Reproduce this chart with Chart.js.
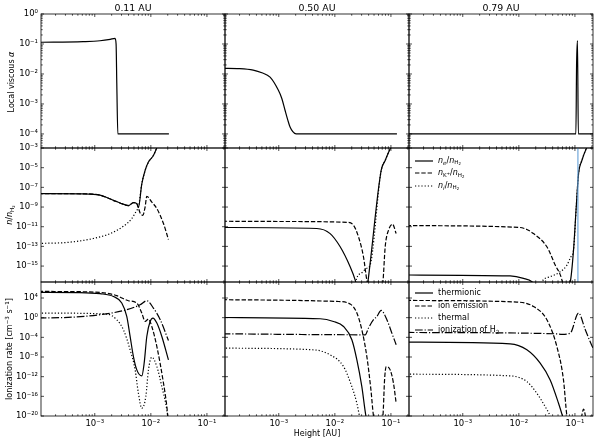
<!DOCTYPE html>
<html><head><meta charset="utf-8">
<script src="https://cdn.jsdelivr.net/npm/chart.js@4.4.1/dist/chart.umd.min.js"></script>
<style>
html,body{margin:0;padding:0;width:598px;height:442px;overflow:hidden;background:#fff;}
body{position:relative;font-family:"DejaVu Sans",sans-serif;color:#000;}
canvas{position:absolute;}
.t{position:absolute;white-space:nowrap;line-height:1;}
sub{font-size:70%;vertical-align:-0.3em;line-height:0;}
sup{font-size:70%;vertical-align:0.45em;line-height:0;}
</style></head><body>
<script>
// ---------- tick / category data ----------
const radii = ['0.11 AU', '0.50 AU', '0.79 AU'];
const heightTicks = [1e-3, 1e-2, 1e-1];
const alphaTicks = [1e-4, 1e-3, 1e-2, 1e-1, 1];
const ratioTicks = [1e-15, 1e-13, 1e-11, 1e-9, 1e-7, 1e-5, 1e-3];
const rateTicks = [1e-20, 1e-16, 1e-12, 1e-8, 1e-4, 1, 1e4];
const heightRange = [1.1e-4, 0.21];
const alphaRange = [3.4e-5, 1];
const ratioRange = [2.4e-17, 1e-3];
const rateRange = [1e-20, 1.8e7];

// ---------- row 1: local viscous alpha ----------
const alphaH1 = [1.0e-4, 6.2e-4, 1.24e-3, 1.88e-3, 2.3e-3, 2.4e-3, 2.47e-3, 2.58e-3, 0.021];
const alpha1  = [0.114, 0.12, 0.128, 0.143, 0.155, 0.1, 0.005, 1e-4, 1e-4];
const alphaH2 = [1.0e-4, 2.0e-4, 3.5e-4, 5.0e-4, 7.0e-4, 9.8e-4, 1.13e-3, 1.29e-3, 1.45e-3, 1.59e-3, 1.78e-3, 2.04e-3, 0.128];
const alpha2  = [0.0155, 0.0151, 0.0135, 0.011, 0.0078, 0.0029, 0.00155, 0.00063, 0.00029, 0.00017, 0.00012, 0.0001, 0.0001];
const alphaH3 = [1.0e-4, 0.104, 0.107, 0.111, 0.115, 0.22];
const alpha3  = [1e-4, 1e-4, 0.02, 0.13, 1e-4, 1e-4];

// ---------- row 2: number density ratios ----------
const neH1 = [1.0e-4, 6.0e-4, 1.24e-3, 2.15e-3, 2.83e-3, 3.98e-3, 4.89e-3, 5.62e-3, 6.0e-3, 6.9e-3, 7.9e-3, 9.06e-3, 1.11e-2, 1.28e-2, 1.41e-2];
const ne1  = [2.3e-8, 2.2e-8, 1.6e-8, 4.8e-9, 2.6e-9, 1.4e-9, 2.8e-9, 2.2e-9, 8.7e-10, 2.3e-7, 5.2e-6, 3.7e-5, 1.7e-4, 1.05e-3, 3.2e-3];
const nkH1 = [1.0e-4, 6.0e-4, 1.24e-3, 2.15e-3, 2.83e-3, 3.98e-3, 4.89e-3, 5.62e-3, 6.44e-3, 7.2e-3, 7.9e-3, 8.47e-3, 1.04e-2, 1.28e-2, 1.68e-2, 2.06e-2];
const nk1  = [2.3e-8, 2.2e-8, 1.6e-8, 4.8e-9, 2.6e-9, 1.4e-9, 2.8e-9, 2.2e-9, 2.5e-10, 1.45e-10, 1e-9, 1.23e-8, 3.2e-9, 6.9e-10, 2.1e-11, 5e-13];
const niH1 = [1.0e-4, 3.16e-4, 9.4e-4, 1.88e-3, 3.24e-3, 4.58e-3, 5.62e-3, 6.0e-3, 6.9e-3, 7.9e-3, 9.06e-3, 1.11e-2, 1.28e-2, 1.41e-2];
const ni1  = [2e-13, 2.5e-13, 6.3e-13, 2.0e-12, 1.1e-11, 6.8e-11, 4.7e-10, 8.7e-10, 2.3e-7, 5.2e-6, 3.7e-5, 1.7e-4, 1.05e-3, 3.2e-3];

const neH2 = [1.0e-4, 4.76e-3, 8.24e-3, 1.245e-2, 1.875e-2, 2.3e-2, 3.03e-2, 3.88e-2, 4.2e-2, 6.7e-2, 7.9e-2, 9.7e-2, 0.112];
const ne2  = [8.3e-12, 6.6e-12, 2.0e-12, 9.1e-14, 8.5e-16, 4e-17, 1e-19, 2.5e-17, 1e-15, 5.2e-6, 5.4e-5, 8.3e-4, 3.2e-3];
const nkH2 = [1.0e-4, 1e-3, 1.635e-2, 2.15e-2, 2.64e-2, 3.24e-2, 3.72e-2, 5.25e-2, 7.2e-2, 7.9e-2, 9.06e-2, 0.107, 0.124];
const nk2  = [3.6e-11, 3.4e-11, 2.8e-11, 1.4e-11, 9.3e-13, 8.7e-15, 3.8e-17, 1e-19, 2.5e-17, 9.1e-14, 4.5e-12, 1.8e-11, 2.0e-12];
const niH2 = [2.0e-2, 2.45e-2, 3.03e-2, 3.72e-2, 4.2e-2, 6.7e-2, 7.9e-2, 9.7e-2, 0.112];
const ni2  = [1e-19, 5.6e-17, 2.1e-16, 6e-16, 1e-15, 5.2e-6, 5.4e-5, 8.3e-4, 3.2e-3];

const neH3 = [1.0e-4, 7.0e-3, 1.21e-2, 1.71e-2, 3.62e-2, 8.24e-2, 9.44e-2, 0.1055, 0.116, 0.133, 0.159, 0.18];
const ne3  = [1.23e-16, 1e-16, 5.6e-17, 2.5e-17, 1e-19, 2.5e-17, 4.2e-14, 1.0e-9, 2.4e-6, 5.4e-5, 8.3e-4, 3.2e-3];
const nkH3 = [1.0e-4, 1.05e-2, 1.39e-2, 1.82e-2, 3.16e-2, 4.45e-2, 5.86e-2, 7e-2];
const nk3  = [1.3e-11, 8.3e-12, 5.2e-12, 2.0e-12, 9.1e-14, 1.26e-15, 3.8e-17, 1e-19];
const niH3 = [2.0e-2, 2.58e-2, 3.62e-2, 5.46e-2, 7.2e-2, 8.47e-2, 9.44e-2, 0.1055, 0.116, 0.133, 0.159, 0.18];
const ni3  = [1e-19, 2.5e-17, 8.3e-17, 2.6e-16, 1.26e-15, 8.7e-15, 4.2e-14, 1.0e-9, 2.4e-6, 5.4e-5, 8.3e-4, 3.2e-3];
const markH3 = [0.113, 0.113];
const markV3 = [1e-30, 1];

// ---------- row 3: ionization rates ----------
const thH1 = [1.0e-4, 5e-4, 1.24e-3, 2.15e-3, 3.03e-3, 3.72e-3, 4.27e-3, 4.89e-3, 5.62e-3, 6.9e-3, 7.6e-3, 8.47e-3, 9.7e-3, 1.09e-2, 1.28e-2, 1.57e-2, 2.06e-2];
const th1  = [1.38e5, 1.26e5, 7.6e4, 2.1e4, 955, 1.78, 1.5e-4, 1.23e-8, 2.4e-11, 1.45e-12, 5.6e-10, 1.5e-4, 0.17, 0.83, 0.079, 1.5e-4, 2.6e-9];
const ieH1 = [1.0e-4, 1.0e-3, 1.78e-3, 2.47e-3, 3.98e-3, 5.62e-3, 6.9e-3, 7.9e-3, 9.06e-3, 1.04e-2, 1.28e-2, 1.68e-2, 1.93e-2, 2.04e-2];
const ie1  = [2.2e5, 1.6e5, 7.9e4, 3.0e4, 2.8e3, 955, 8.7, 0.17, 0.52, 0.016, 1.35e-6, 4.7e-14, 7.9e-19, 1e-21];
const tmH1 = [1.0e-4, 1.64e-3, 2.47e-3, 3.24e-3, 4.27e-3, 5.25e-3, 6.0e-3, 6.9e-3, 8.13e-3, 9.06e-3, 1.04e-2, 1.28e-2, 1.57e-2, 1.93e-2, 2.04e-2];
const tm1  = [8.7, 5.5, 0.38, 3.5e-3, 2.9e-7, 2.4e-11, 4.3e-16, 3.7e-19, 8.7e-17, 2.4e-11, 9.3e-9, 1.12e-10, 9.3e-15, 1.6e-19, 1e-21];
const h2H1 = [1.0e-4, 4e-4, 1.24e-3, 3.72e-3, 6.44e-3, 8.47e-3, 1.11e-2, 1.47e-2, 2.06e-2];
const h21  = [0.83, 1.26, 4, 41, 427, 2.8e3, 91, 0.38, 2.2e-5];

const thH2 = [1.0e-4, 5.46e-3, 9.44e-3, 1.43e-2, 2.01e-2, 2.47e-2, 3.03e-2, 3.58e-2, 3.98e-2];
const th2  = [1.1, 0.6, 0.17, 0.016, 3.2e-5, 2.6e-9, 9.3e-15, 1e-20, 1e-22];
const ieH2 = [1.0e-4, 1.09e-2, 1.875e-2, 2.47e-2, 3.03e-2, 3.72e-2, 4.4e-2, 4.89e-2, 6.0e-2, 7.2e-2, 7.7e-2, 8.24e-2, 9.7e-2, 0.111, 0.124];
const ie2  = [4.5e3, 2.0e3, 600, 8.7, 3.5e-3, 1.23e-8, 2e-15, 1e-20, 1e-23, 1e-20, 2.2e-13, 1.12e-10, 2.4e-11, 4.7e-14, 3.9e-18];
const tmH2 = [1.0e-4, 4.15e-3, 8.24e-3, 1.43e-2, 2.01e-2, 2.47e-2, 2.75e-2, 3.16e-2];
const tm2  = [6.3e-7, 2.9e-7, 2.75e-8, 1.12e-10, 9.3e-15, 3.9e-18, 1e-20, 1e-23];
const h2H2 = [1.0e-4, 3.48e-2, 3.98e-2, 4.89e-2, 5.62e-2, 6.7e-2, 8.47e-2, 0.104, 0.124];
const h22  = [5.2e-4, 3.3e-4, 7.6e-3, 0.38, 1.78, 29.5, 0.38, 7.2e-4, 3e-6];

const thH3 = [1.0e-4, 7.0e-3, 1.39e-2, 2.4e-2, 3.62e-2, 5.1e-2, 6.0e-2, 7.1e-2];
const th3  = [1.07e-5, 4.8e-6, 2.9e-7, 5.6e-10, 2.2e-13, 3.9e-18, 1e-20, 1e-23];
const ieH3 = [1.0e-4, 9.2e-3, 1.82e-2, 3.16e-2, 4.76e-2, 6.25e-2, 7.2e-2, 0.1, 0.127, 0.1425, 0.16];
const ie3  = [3.2e3, 1.5e3, 195, 0.38, 1.35e-6, 2.2e-13, 1e-20, 1e-25, 1e-21, 2.5e-19, 1e-21];
const tmH3 = [1.0e-4, 7.0e-3, 1.39e-2, 2.09e-2, 2.95e-2, 3.62e-2, 4.47e-2];
const tm3  = [3.2e-12, 1.45e-12, 1e-13, 4.3e-16, 7.9e-19, 1e-20, 1e-23];
const h2H3 = [1.0e-4, 4.76e-2, 5.86e-2, 8.24e-2, 0.116, 0.153, 0.21, 0.23];
const h23  = [9.8e-4, 5.2e-4, 4e-4, 7.2e-4, 8.7, 3.5e-3, 6.3e-7, 1e-7];

// ---------- styles & layout ----------
const DASH = {solid: [], dashed: [4.4, 1.9], dotted: [1.2, 2.0], dashdot: [7.7, 1.9, 1.2, 1.9], mark: []};
const COLW = [41, 225, 409], ROWT = [14, 148, 282], PW = 184, PH = 134;
const FONT = '"DejaVu Sans", sans-serif';

const SUPC = {'-': '\u207B', '0': '\u2070', '1': '\u00B9', '2': '\u00B2', '3': '\u00B3', '4': '\u2074', '5': '\u2075', '6': '\u2076', '7': '\u2077', '8': '\u2078', '9': '\u2079'};
const pow10Label = v => '10' + String(Math.round(Math.log10(v))).split('').map(ch => SUPC[ch]).join('');

const frameTicks = {
  id: 'frameTicks',
  afterDatasetsDraw(chart, args, o) {
    const {ctx, chartArea: a} = chart;
    const xs = chart.scales.x, ys = chart.scales.y;
    ctx.save();
    ctx.strokeStyle = '#000';
    ctx.lineWidth = 0.7;
    ctx.beginPath();
    for (let e = -5; e <= 1; e++) {
      for (let m = 1; m <= 9; m++) {
        const v = m * Math.pow(10, e);
        if (v < xs.min || v > xs.max) continue;
        const px = xs.getPixelForValue(v), len = m === 1 ? 3 : 1.7;
        ctx.moveTo(px, a.bottom); ctx.lineTo(px, a.bottom - len);
        ctx.moveTo(px, a.top); ctx.lineTo(px, a.top + len);
      }
    }
    const yv = o.yMajor.map(v => [v, true]);
    if (o.yMinor) {
      for (let e = -6; e <= 1; e++) for (let m = 2; m <= 9; m++) yv.push([m * Math.pow(10, e), false]);
    }
    for (const [v, maj] of yv) {
      if (v < ys.min || v > ys.max) continue;
      const py = ys.getPixelForValue(v), len = maj ? 3 : 1.7;
      ctx.moveTo(a.left, py); ctx.lineTo(a.left + len, py);
      ctx.moveTo(a.right, py); ctx.lineTo(a.right - len, py);
    }
    ctx.stroke();
    ctx.lineWidth = 0.8;
    ctx.strokeRect(a.left, a.top, a.right - a.left, a.bottom - a.top);
    ctx.restore();
  }
};

const zeroPad = s => { s.paddingLeft = 0; s.paddingRight = 0; s.paddingTop = 0; s.paddingBottom = 0; };

const rows = [
  {range: alphaRange, ticks: alphaTicks, minor: true},
  {range: ratioRange, ticks: ratioTicks, minor: false},
  {range: rateRange, ticks: rateTicks, minor: false}
];

const panels = [
  {r: 0, c: 0, sets: [[alphaH1, alpha1, 'solid']]},
  {r: 0, c: 1, sets: [[alphaH2, alpha2, 'solid']]},
  {r: 0, c: 2, sets: [[alphaH3, alpha3, 'solid']]},
  {r: 1, c: 0, sets: [[neH1, ne1, 'solid'], [nkH1, nk1, 'dashed'], [niH1, ni1, 'dotted']]},
  {r: 1, c: 1, sets: [[neH2, ne2, 'solid'], [nkH2, nk2, 'dashed'], [niH2, ni2, 'dotted']]},
  {r: 1, c: 2, sets: [[markH3, markV3, 'mark'], [neH3, ne3, 'solid'], [nkH3, nk3, 'dashed'], [niH3, ni3, 'dotted']]},
  {r: 2, c: 0, sets: [[thH1, th1, 'solid'], [ieH1, ie1, 'dashed'], [tmH1, tm1, 'dotted'], [h2H1, h21, 'dashdot']]},
  {r: 2, c: 1, sets: [[thH2, th2, 'solid'], [ieH2, ie2, 'dashed'], [tmH2, tm2, 'dotted'], [h2H2, h22, 'dashdot']]},
  {r: 2, c: 2, sets: [[thH3, th3, 'solid'], [ieH3, ie3, 'dashed'], [tmH3, tm3, 'dotted'], [h2H3, h23, 'dashdot']]}
];

function makePanel(p) {
  const M = 8, YW = p.c === 0 ? 33 : 0, XH = p.r === 2 ? 22 : 0;
  const row = rows[p.r];
  const cv = document.createElement('canvas');
  const w = M + YW + PW + M, h = M + PH + XH + M;
  cv.width = w; cv.height = h;
  cv.style.left = (COLW[p.c] - M - YW) + 'px';
  cv.style.top = (ROWT[p.r] - M) + 'px';
  cv.style.width = w + 'px'; cv.style.height = h + 'px';
  document.body.appendChild(cv);
  const datasets = p.sets.map(([xs, ys, st]) => ({
    data: xs.map((x, i) => ({x: x, y: ys[i]})),
    borderColor: st === 'mark' ? 'rgba(100,160,215,0.85)' : '#000',
    borderWidth: st === 'mark' ? 1.3 : 1.2,
    borderDash: DASH[st],
    pointRadius: 0,
    fill: false,
    cubicInterpolationMode: st === 'mark' ? 'default' : 'monotone',
    tension: 0,
    clip: 0
  }));
  new Chart(cv, {
    type: 'line',
    data: {datasets},
    plugins: [frameTicks],
    options: {
      responsive: false, animation: false, devicePixelRatio: 1, events: [],
      layout: {padding: M},
      plugins: {legend: {display: false}, tooltip: {enabled: false}, frameTicks: {yMajor: row.ticks, yMinor: row.minor}},
      scales: {
        x: {
          type: 'logarithmic', min: heightRange[0], max: heightRange[1],
          display: p.r === 2,
          grid: {display: false, drawTicks: false}, border: {display: false},
          ticks: {font: {family: FONT, size: 8.5}, color: '#000', padding: 3, autoSkip: false, maxRotation: 0, minRotation: 0, callback: v => pow10Label(v)},
          afterBuildTicks: s => { s.ticks = heightTicks.map(v => ({value: v})); },
          afterFit: s => { s.height = XH; zeroPad(s); }
        },
        y: {
          type: 'logarithmic', min: row.range[0], max: row.range[1],
          display: p.c === 0,
          grid: {display: false, drawTicks: false}, border: {display: false},
          ticks: {font: {family: FONT, size: 8.5}, color: '#000', padding: 3, autoSkip: false, callback: v => pow10Label(v)},
          afterBuildTicks: s => { s.ticks = row.ticks.map(v => ({value: v})); },
          afterFit: s => { s.width = YW; zeroPad(s); }
        }
      }
    }
  });
}
panels.forEach(makePanel);

// ---------- text ----------
function addText(html, x, y, size, rotate) {
  const d = document.createElement('div');
  d.className = 't';
  d.innerHTML = html;
  d.style.left = x + 'px'; d.style.top = y + 'px';
  d.style.fontSize = size + 'px';
  d.style.transform = 'translate(-50%,-50%)' + (rotate ? ' rotate(-90deg)' : '');
  document.body.appendChild(d);
}
radii.forEach((t, c) => addText(t, COLW[c] + PW / 2, 7.5, 9.4, false));
addText('Local viscous <i>\u03B1</i>', 11.5, 82, 8, true);
addText('<i>n</i>/<i>n</i><sub>H<sub>2</sub></sub>', 10, 215, 8, true);
addText('Ionization rate [cm<sup>\u22123</sup> s<sup>\u22121</sup>]', 9.5, 349, 8, true);
addText('Height [AU]', 317, 434, 8, false);

const legendRatio = [
  ['<i>n</i><sub><i>e</i></sub>/<i>n</i><sub>H<sub>2</sub></sub>', 'solid'],
  ['<i>n</i><sub>K<sup>+</sup></sub>/<i>n</i><sub>H<sub>2</sub></sub>', 'dashed'],
  ['<i>n</i><sub><i>i</i></sub>/<i>n</i><sub>H<sub>2</sub></sub>', 'dotted']
];
const legendRate = [
  ['thermionic', 'solid'],
  ['ion emission', 'dashed'],
  ['thermal', 'dotted'],
  ['ionization of H<sub>2</sub>', 'dashdot']
];
function addLegend(items, x0, y0, dy, size) {
  items.forEach(([html, st], i) => {
    const y = y0 + i * dy;
    const svg = document.createElementNS('http://www.w3.org/2000/svg', 'svg');
    svg.setAttribute('width', '18'); svg.setAttribute('height', '4');
    svg.style.position = 'absolute'; svg.style.left = x0 + 'px'; svg.style.top = (y - 2) + 'px';
    const ln = document.createElementNS('http://www.w3.org/2000/svg', 'line');
    ln.setAttribute('x1', '0'); ln.setAttribute('y1', '2'); ln.setAttribute('x2', '18'); ln.setAttribute('y2', '2');
    ln.setAttribute('stroke', '#000'); ln.setAttribute('stroke-width', '1.2');
    if (DASH[st].length) ln.setAttribute('stroke-dasharray', DASH[st].join(' '));
    svg.appendChild(ln);
    document.body.appendChild(svg);
    const d = document.createElement('div');
    d.className = 't';
    d.innerHTML = html;
    d.style.left = (x0 + 23) + 'px'; d.style.top = y + 'px';
    d.style.fontSize = size + 'px';
    d.style.transform = 'translateY(-50%)';
    document.body.appendChild(d);
  });
}
addLegend(legendRatio, 415, 160.5, 12.5, 8);
addLegend(legendRate, 415, 293.3, 12.3, 8);
</script>
</body></html>
